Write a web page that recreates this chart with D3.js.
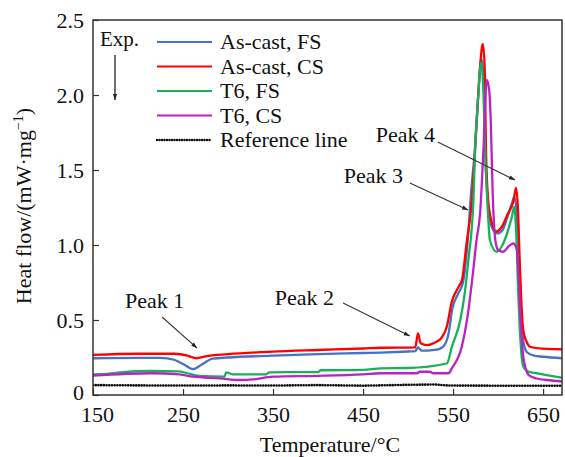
<!DOCTYPE html>
<html>
<head>
<meta charset="utf-8">
<script src="https://cdn.jsdelivr.net/npm/d3@7/dist/d3.min.js"></script>
<style>
  body { margin: 0; background: #fff; }
  svg text { font-family: "Liberation Serif", "Times New Roman", serif; fill: #111; }
</style>
</head>
<body>
<svg id="chart" width="565" height="457"></svg>
<script>
// DSC curves, [temperature °C, heat flow mW/mg]
const asCastFS = [[150,0.245],[200,0.248],[225,0.248],[240,0.235],[252,0.2],[261,0.172],[270,0.2],[283,0.242],[300,0.25],[350,0.262],[400,0.272],[450,0.28],[470,0.283],[500,0.29],[508,0.292],[511,0.318],[515,0.296],[525,0.298],[532,0.302],[539,0.322],[545,0.41],[549,0.57],[556,0.68],[561,0.75],[566,1.01],[570,1.35],[574.4,1.65],[578,2.0],[581.5,2.24],[584,2.1],[586,1.6],[589,1.25],[593,1.12],[599,1.077],[605,1.1],[610,1.18],[615,1.27],[618,1.32],[620,1.26],[622,1.0],[624.5,0.6],[628,0.36],[632,0.285],[640,0.262],[650,0.255],[671,0.245]]
const asCastCS = [[150,0.267],[200,0.275],[240,0.275],[255,0.262],[265,0.245],[275,0.258],[300,0.272],[350,0.289],[400,0.3],[450,0.31],[470,0.315],[508,0.318],[511,0.41],[514,0.345],[521,0.333],[530,0.35],[537,0.38],[543,0.455],[548.5,0.62],[556,0.72],[560,0.77],[565,1.01],[571,1.3],[576,1.8],[580,2.19],[583,2.34],[585,2.2],[586.7,1.6],[589,1.3],[593,1.15],[598,1.09],[604,1.12],[611,1.21],[617,1.29],[620,1.38],[622,1.25],[624,0.9],[626,0.6],[628,0.43],[632,0.35],[636,0.32],[654,0.307],[671,0.305]]
const t6FS = [[150,0.138],[165,0.14],[180,0.151],[215,0.16],[245,0.158],[255,0.145],[268,0.127],[296,0.122],[298,0.151],[305,0.138],[342,0.138],[346,0.151],[400,0.153],[403,0.165],[450,0.168],[470,0.178],[500,0.18],[543,0.21],[548.6,0.32],[558,0.5],[563,0.68],[567,0.9],[572.6,1.3],[574.4,1.63],[578,2.0],[581,2.215],[583.5,2.05],[585.5,1.63],[588,1.3],[591,1.03],[598.5,0.955],[604,0.99],[609.6,1.07],[615,1.18],[618,1.255],[620,1.1],[622,0.75],[624.4,0.41],[628,0.19],[634,0.155],[643,0.145],[654,0.133],[671,0.115]]
const t6CS = [[150,0.129],[215,0.145],[246,0.138],[261,0.122],[291,0.111],[313,0.1],[328,0.104],[350,0.122],[400,0.128],[450,0.138],[470,0.145],[510,0.145],[513,0.155],[524,0.155],[528,0.145],[545,0.145],[548.6,0.178],[559.6,0.32],[566,0.52],[572,0.81],[576,1.03],[580,1.21],[583.7,1.63],[587.4,2.1],[590,2.04],[592,1.8],[594,1.35],[597,1.03],[600,0.967],[606,0.955],[611.5,0.99],[617,1.01],[621,0.967],[624,0.63],[628,0.255],[634,0.133],[643,0.11],[654,0.1],[671,0.09]]
const referenceLine = [[150,0.066],[200,0.064],[250,0.063],[300,0.064],[350,0.063],[400,0.066],[450,0.062],[500,0.068],[530,0.07],[545,0.063],[600,0.062],[671,0.062]]

const seriesNames = ["As-cast, FS", "As-cast, CS", "T6, FS", "T6, CS", "Reference line"]
const seriesColors = ["#4472c4", "#ff0000", "#19b05a", "#bb22c4", "#111111"]
const xTicks = [150, 250, 350, 450, 550, 650]
const yTicks = [0, 0.5, 1.0, 1.5, 2.0, 2.5]
const yTickLabels = ["0", "0.5", "1.0", "1.5", "2.0", "2.5"]

// label text, [text T, text v], arrow from, arrow to (data coords)
const peakLabels = ["Peak 1", "Peak 2", "Peak 3", "Peak 4"]
const peakTextPos = [[185.6, 0.58], [352, 0.6], [494.4, 1.413], [530, 1.687]]
const peakTextAnchor = ["start", "start", "end", "end"]
const peakArrowFrom = [[226.7, 0.52], [427.8, 0.613], [502, 1.413], [533, 1.687]]
const peakArrowTo = [[265.6, 0.313], [502, 0.393], [566.7, 1.233], [618.9, 1.433]]

const svg = d3.select("#chart")
const m = { left: 93, top: 20, right: 3, bottom: 62 }
const W = 565, H = 457

const x = d3.scaleLinear().domain([150, 671]).range([m.left, W - m.right])
const y = d3.scaleLinear().domain([0, 2.5]).range([H - m.bottom, m.top])

const defs = svg.append("defs")
defs.append("marker")
  .attr("id", "arr")
  .attr("viewBox", "0 0 10 10")
  .attr("refX", 10).attr("refY", 5)
  .attr("markerWidth", 9).attr("markerHeight", 6)
  .attr("markerUnits", "userSpaceOnUse")
  .attr("orient", "auto")
  .append("path").attr("d", "M0,1.5 L10,5 L0,8.5 Z").attr("fill", "#222")
defs.append("clipPath").attr("id", "clip")
  .append("rect")
  .attr("x", m.left).attr("y", m.top)
  .attr("width", W - m.left - m.right).attr("height", H - m.top - m.bottom)

const line = d3.line().x(d => x(d[0])).y(d => y(d[1])).curve(d3.curveMonotoneX)
const allSeries = [asCastFS, asCastCS, t6FS, t6CS]

const plot = svg.append("g").attr("clip-path", "url(#clip)")
plot.append("path")
  .datum(referenceLine)
  .attr("d", d3.line().x(d => x(d[0])).y(d => y(d[1])))
  .attr("fill", "none")
  .attr("stroke", seriesColors[4])
  .attr("stroke-width", 2.6)
  .attr("stroke-linecap", "round")
  .attr("stroke-dasharray", "0.1,2.6")

allSeries.forEach((s, i) => {
  plot.append("path")
    .datum(s)
    .attr("d", line)
    .attr("fill", "none")
    .attr("stroke", seriesColors[i])
    .attr("stroke-width", 2.3)
    .attr("stroke-linejoin", "round")
})

// axes, ticks inward
const xAxis = d3.axisBottom(x).tickValues(xTicks).tickSizeInner(-6).tickSizeOuter(0).tickPadding(11)
const yAxis = d3.axisLeft(y).tickValues(yTicks).tickSizeInner(-6).tickSizeOuter(0).tickPadding(9)
  .tickFormat((d, i) => yTickLabels[i])

const gx = svg.append("g").attr("transform", `translate(0,${H - m.bottom})`).call(xAxis)
const gy = svg.append("g").attr("transform", `translate(${m.left},0)`).call(yAxis)
;[gx, gy].forEach(g => {
  g.select(".domain").remove()
  g.selectAll(".tick line").attr("stroke", "#333").attr("stroke-width", 1.2)
  g.selectAll(".tick text").attr("font-size", 22).attr("fill", "#111")
})
// first x label sits a little right of its tick in the reference
gx.selectAll(".tick text").filter(d => d === 150).attr("dx", 4)
gy.selectAll(".tick text").filter(d => d === 0).attr("dy", "0.2em")

svg.append("rect")
  .attr("x", m.left).attr("y", m.top)
  .attr("width", W - m.left - m.right).attr("height", H - m.top - m.bottom)
  .attr("fill", "none").attr("stroke", "#333").attr("stroke-width", 1.5)

// axis titles
svg.append("text")
  .attr("x", 330).attr("y", 452)
  .attr("text-anchor", "middle").attr("font-size", 22)
  .text("Temperature/°C")

const yTitle = svg.append("text")
  .attr("transform", "translate(31,206) rotate(-90)")
  .attr("text-anchor", "middle").attr("font-size", 22)
yTitle.append("tspan").text("Heat flow/(mW·mg")
yTitle.append("tspan").attr("font-size", 14).attr("dy", -8).text("−1")
yTitle.append("tspan").attr("dy", 8).text(")")

// legend
const legend = svg.append("g").attr("transform", "translate(157,42)")
seriesNames.forEach((name, i) => {
  const row = legend.append("g").attr("transform", `translate(0,${i * 24.5})`)
  const seg = row.append("line")
    .attr("x1", 0).attr("x2", 55).attr("y1", 0).attr("y2", 0)
    .attr("stroke", seriesColors[i])
  if (i === 4) {
    seg.attr("stroke-width", 2.4).attr("stroke-linecap", "round").attr("stroke-dasharray", "0.1,2.4")
  } else {
    seg.attr("stroke-width", 2.2)
  }
  row.append("text").attr("x", 63).attr("y", 7).attr("font-size", 22).text(name)
})

// Exp. label with arrow
svg.append("text").attr("x", 100).attr("y", 46).attr("font-size", 21).text("Exp.")
svg.append("line")
  .attr("x1", 115).attr("x2", 115).attr("y1", 55).attr("y2", 100)
  .attr("stroke", "#222").attr("stroke-width", 1.3)
  .attr("marker-end", "url(#arr)")

// peak annotations
peakLabels.forEach((lab, i) => {
  svg.append("text")
    .attr("x", x(peakTextPos[i][0])).attr("y", y(peakTextPos[i][1]))
    .attr("text-anchor", peakTextAnchor[i])
    .attr("font-size", 22)
    .text(lab)
  svg.append("line")
    .attr("x1", x(peakArrowFrom[i][0])).attr("y1", y(peakArrowFrom[i][1]))
    .attr("x2", x(peakArrowTo[i][0])).attr("y2", y(peakArrowTo[i][1]))
    .attr("stroke", "#333").attr("stroke-width", 1.1)
    .attr("marker-end", "url(#arr)")
})
</script>
</body>
</html>
